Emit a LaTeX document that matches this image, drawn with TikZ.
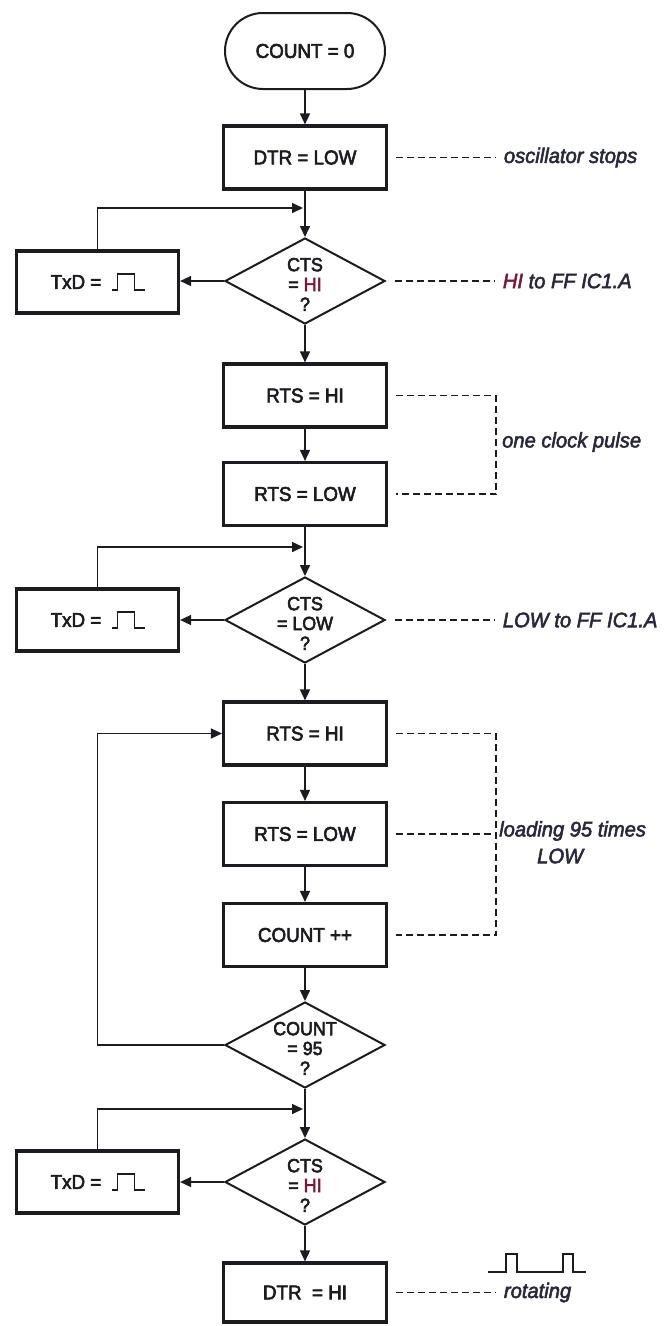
\documentclass[tikz,border=0pt]{standalone}
\usepackage{fontspec}
\setmainfont{Liberation Sans}
\newfontfamily\bxfont{Liberation Sans}[FakeBold=3, FakeStretch=0.94]
\newfontfamily\labfont{Liberation Sans}[UprightFont={* Italic}, FakeBold=2.5, FakeStretch=0.96]
\usetikzlibrary{arrows.meta,shapes.geometric,shapes.misc,calc}
\definecolor{ink}{RGB}{28,28,32}
\definecolor{labink}{RGB}{40,40,58}
\definecolor{hicol}{RGB}{120,25,55}
\newcommand{\topstrut}{\rule{0pt}{20pt}}
\begin{document}
\begin{tikzpicture}[x=1pt,y=-1pt,
  every node/.style={text=ink},
  proc/.style={draw=ink, line width=3.2pt, minimum width=163pt, minimum height=63pt, inner sep=0pt, font=\bxfont\fontsize{20}{22}\selectfont},
  txdbox/.style={proc, minimum width=162pt, minimum height=62pt},
  dec/.style={draw=ink, diamond, line width=2pt, shape aspect=1.84, minimum width=160pt, minimum height=86pt, inner sep=-4pt, align=center, font=\bxfont\fontsize{19}{19.8}\selectfont},
  term/.style={draw=ink, rounded rectangle, line width=2pt, minimum width=160pt, minimum height=76pt, inner sep=0pt, font=\bxfont\fontsize{20}{22}\selectfont},
  arr/.style={draw=ink, line width=1.6pt, -{Triangle[length=11pt,width=10pt]}},
  dline/.style={draw=ink, line width=1.7pt, dash pattern=on 7pt off 4pt},
  lab/.style={font=\labfont\fontsize{21}{23}\selectfont, text=labink, anchor=west, inner sep=0pt},
  wave/.style={draw=ink, line width=1.8pt}
]
\fill[white] (0,0) rectangle (668,1326);
\useasboundingbox (0,0) rectangle (668,1326);

% main column
\node[term] (start) at (305,51) {COUNT = 0};
\node[proc] (dtrlow) at (305,157.5) {DTR = LOW};
\node[dec] (d1) at (305,281) {\topstrut CTS\\= \textcolor{hicol}{HI}\\?};
\node[txdbox] (txd1) at (97.5,282) {TxD =\hspace*{43pt}};
\node[proc] (rtshi1) at (305,395.5) {RTS = HI};
\node[proc] (rtslow1) at (305,494) {RTS = LOW};
\node[dec] (d2) at (305,620) {\topstrut CTS\\= LOW\\?};
\node[txdbox] (txd2) at (97.5,620) {TxD =\hspace*{43pt}};
\node[proc] (rtshi2) at (305,733.5) {RTS = HI};
\node[proc] (rtslow2) at (305,834) {RTS = LOW};
\node[proc] (countpp) at (305,935) {COUNT ++};
\node[dec] (d95) at (305,1045) {\topstrut COUNT\\= 95\\?};
\node[dec] (d3) at (305,1182) {\topstrut CTS\\= \textcolor{hicol}{HI}\\?};
\node[txdbox] (txd3) at (97.5,1182) {TxD =\hspace*{43pt}};
\node[proc, minimum height=59pt] (dtrhi) at (305,1292.5) {DTR\ \ = HI};

% pulse symbols inside TxD boxes
\foreach \t in {txd1,txd2,txd3}{
  \draw[wave] ([shift={(14,8)}]\t.center) -- ++(6,0) -- ++(0,-16) -- ++(17,0) -- ++(0,16) -- ++(10,0);
}

% junctions
\coordinate (j1) at (303,208);
\coordinate (j2) at (303,547);
\coordinate (j3) at (303,1109);

% connectors
\draw[arr] (start) -- (dtrlow);
\draw[arr] (dtrlow) -- (d1);
\draw[arr] (txd1.north) |- (j1);
\draw[arr] (d1.west) -- (d1.west -| txd1.east);
\draw[arr] (d1) -- (rtshi1);
\draw[arr] (rtshi1) -- (rtslow1);
\draw[arr] (rtslow1) -- (d2);
\draw[arr] (txd2.north) |- (j2);
\draw[arr] (d2.west) -- (d2.west -| txd2.east);
\draw[arr] (d2) -- (rtshi2);
\draw[arr] (rtshi2) -- (rtslow2);
\draw[arr] (rtslow2) -- (countpp);
\draw[arr] (countpp) -- (d95);
\draw[arr] (d95.west) -- (d95.west -| txd2.north) |- (rtshi2.west);
\draw[arr] (d95) -- (d3);
\draw[arr] (txd3.north) |- (j3);
\draw[arr] (d3.west) -- (d3.west -| txd3.east);
\draw[arr] (d3) -- (dtrhi);

% annotations
\draw[dline] ([xshift=8pt]dtrlow.east) -- ++(100,0) node[lab, xshift=7pt] (l1) {oscillator stops};
\draw[dline] ([xshift=9pt]d1.east) -- ++(100,0) node[lab, xshift=7pt] (l2) {\textcolor{hicol}{HI} to FF IC1.A};
\draw[dline] ([xshift=8pt]rtshi1.east) -- ++(100,0) |- ([xshift=8pt]rtslow1.east);
\node[lab] (l3) at (502,442) {one clock pulse};
\draw[dline] ([xshift=9pt]d2.east) -- ++(100,0) node[lab, xshift=7pt] (l4) {LOW to FF IC1.A};
\draw[dline] ([xshift=8pt]rtshi2.east) -- ++(100,0) |- ([xshift=8pt]countpp.east);
\draw[dline] ([xshift=8pt]rtslow2.east) -- ++(100,0);
\node[lab] (l5) at (499,831) {loading 95 times};
\node[lab] (l6) at (537,856) {LOW};
\draw[dline] ([xshift=8pt]dtrhi.east) -- ++(100,0) node[lab, xshift=7pt] (l7) {rotating};
\draw[wave] (488,1272) -- (506,1272) -- (506,1254) -- (517,1254) -- (517,1272) -- (563,1272) -- (563,1254) -- (573,1254) -- (573,1272) -- (586,1272);
\end{tikzpicture}
\end{document}
